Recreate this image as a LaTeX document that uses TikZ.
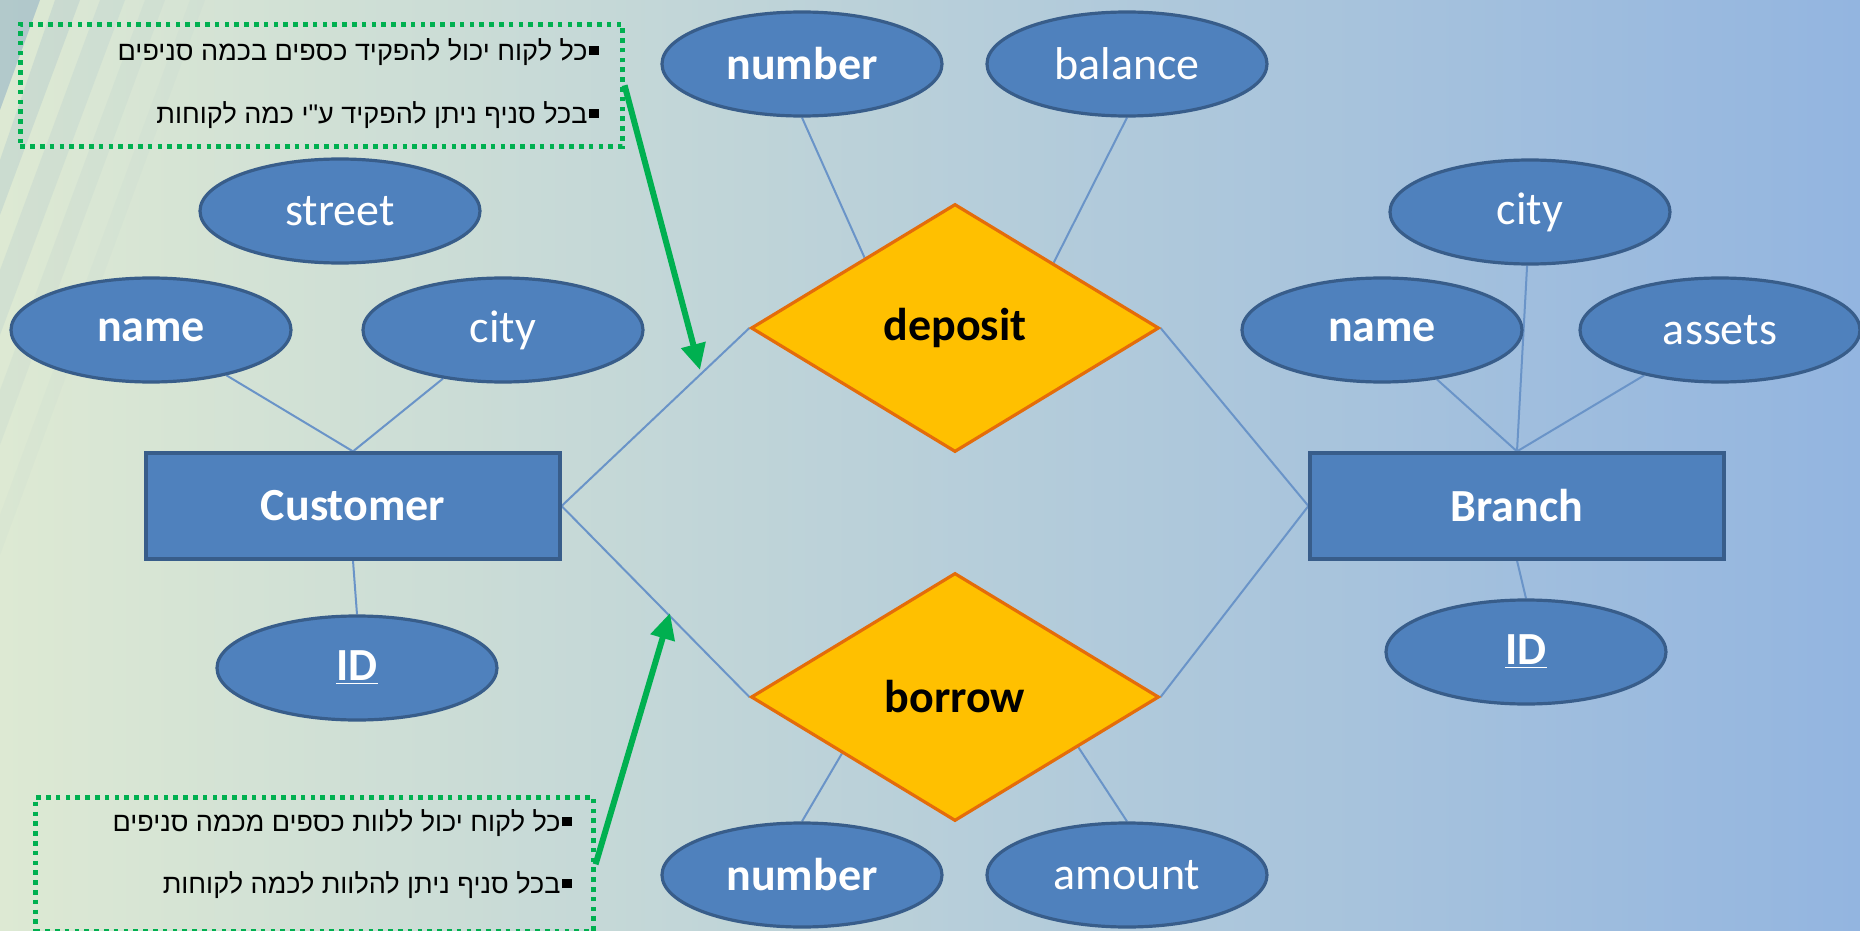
\documentclass[tikz,border=0pt]{standalone}
\usepackage{fontspec}
\setmainfont{Carlito}
\newfontfamily\hebfont[Script=Hebrew,Ligatures=TeXOff]{Liberation Sans}
\TeXXeTstate=1
\usetikzlibrary{shapes.geometric,arrows.meta,calc}
\definecolor{attrfill}{HTML}{4F81BD}
\definecolor{attrdraw}{HTML}{385D8A}
\definecolor{relfill}{HTML}{FFC000}
\definecolor{reldraw}{HTML}{E46C0A}
\definecolor{grn}{HTML}{00B050}
\definecolor{connc}{HTML}{6A94C8}
\definecolor{bgL}{HTML}{DDE9D3}
\definecolor{bgM}{HTML}{BED5D8}
\definecolor{bgR}{HTML}{93B5E0}
\definecolor{stripe}{HTML}{8FAFC6}
\newcommand\hbul{\kern1pt\raisebox{0.2em}{\rule{0.34em}{0.34em}}}
\pgfdeclarelayer{back}
\pgfdeclarelayer{lines}
\pgfsetlayers{back,lines,main}
\begin{document}
\begin{tikzpicture}[x=0.5pt,y=-0.5pt,
  attr/.style={ellipse, fill=attrfill, draw=attrdraw, line width=1.6pt,
    minimum width=140pt, minimum height=52pt, inner sep=0pt, text=white,
    font=\fontsize{23}{26}\selectfont},
  attrb/.style={attr, font=\fontsize{23}{26}\selectfont\bfseries},
  entity/.style={rectangle, fill=attrfill, draw=attrdraw, line width=1.6pt,
    minimum width=207pt, minimum height=53pt, inner sep=0pt, text=white,
    font=\fontsize{23}{26}\selectfont\bfseries},
  rel/.style={diamond, fill=relfill, draw=reldraw, line width=1.6pt,
    minimum width=204pt, minimum height=124pt, inner sep=0pt,
    font=\fontsize{23}{26}\selectfont\bfseries},
  conn/.style={draw=connc, line width=1pt},
  note/.style={draw=grn, line width=2.3pt, dash pattern=on 2.3pt off 2.6pt,
    inner sep=0pt, anchor=north west},
  heb/.style={anchor=east, inner sep=0pt, font=\hebfont\fontsize{13.5}{16}\selectfont},
  garrow/.style={draw=grn, line width=3pt, -{Triangle[length=13pt,width=12pt]}}
]
\useasboundingbox (0,0) rectangle (1860,931);
\begin{pgfonlayer}{back}
  \shade[left color=bgL, middle color=bgM, right color=bgR] (0,0) rectangle (1860,931);
  \fill[stripe, opacity=0.55] (0,0) -- (40,0) -- (0,110) -- cycle;
  \fill[stripe, opacity=0.22] (55,0) -- (80,0) -- (0,215) -- (0,160) -- cycle;
  \fill[stripe, opacity=0.14] (100,0) -- (125,0) -- (0,335) -- (0,270) -- cycle;
  \fill[stripe, opacity=0.09] (145,0) -- (165,0) -- (0,445) -- (0,390) -- cycle;
  \fill[stripe, opacity=0.05] (190,0) -- (205,0) -- (0,555) -- (0,515) -- cycle;
\end{pgfonlayer}

% notes
\node[note, minimum width=301pt, minimum height=61pt] (n1) at (18,22) {};
\node[note, minimum width=279pt, minimum height=67pt] (n2) at (33,795) {};
\node[heb] (t1) at (599,52) {\beginR כל לקוח יכול להפקיד כספים בכמה סניפים\endR\hbul};
\node[heb] (t2) at (599,115) {\beginR בכל סניף ניתן להפקיד ע"י כמה לקוחות\endR\hbul};
\node[heb] (t3) at (572,823) {\beginR כל לקוח יכול ללוות כספים מכמה סניפים\endR\hbul};
\node[heb] (t4) at (572,885) {\beginR בכל סניף ניתן להלוות לכמה לקוחות\endR\hbul};

% entities and relations
\node[entity] (cust) at (353,506) {Customer};
\node[entity] (branch) at (1517,506) {Branch};
\node[rel] (dep) at (955,328) {deposit};
\node[rel] (bor) at (955,697) {borrow};

% attributes
\node[attrb] (numT) at (802,64) {number};
\node[attr] (bal) at (1127,64) {balance};
\node[attr] (street) at (340,211) {street};
\node[attrb] (nameL) at (151,330) {name};
\node[attr] (cityL) at (503,330) {city};
\node[attrb] (IDL) at (357,668) {\underline{ID}};
\node[attr] (cityR) at (1530,212) {city};
\node[attrb] (nameR) at (1382,330) {name};
\node[attr] (assets) at (1720,330) {assets};
\node[attrb] (IDR) at (1526,652) {\underline{ID}};
\node[attrb] (numB) at (802,875) {number};
\node[attr] (amount) at (1127,875) {amount};

\begin{pgfonlayer}{lines}
  \draw[conn] (nameL) -- (cust.north);
  \draw[conn] (cityL) -- (cust.north);
  \draw[conn] (cust.south) -- (IDL.north);
  \draw[conn] (cust.east) -- (dep.west);
  \draw[conn] (cust.east) -- (bor.west);
  \draw[conn] (numT.south) -- ($(dep.west)!0.56!(dep.north)$);
  \draw[conn] (bal.south) -- ($(dep.north)!0.48!(dep.east)$);
  \draw[conn] (dep.east) -- (branch.west);
  \draw[conn] (bor.east) -- (branch.west);
  \draw[conn] ($(bor.west)!0.45!(bor.south)$) -- (numB.north);
  \draw[conn] ($(bor.east)!0.4!(bor.south)$) -- (amount.north);
  \draw[conn] (cityR) -- (branch.north);
  \draw[conn] (nameR) -- (branch.north);
  \draw[conn] (assets) -- (branch.north);
  \draw[conn] (branch.south) -- (IDR.north);
\end{pgfonlayer}

% green arrows
\coordinate (a1) at (700,370);
\coordinate (a2) at (670,613);
\draw[garrow] (n1.east) -- (a1);
\draw[garrow] (n2.east) -- (a2);
\end{tikzpicture}
\end{document}
